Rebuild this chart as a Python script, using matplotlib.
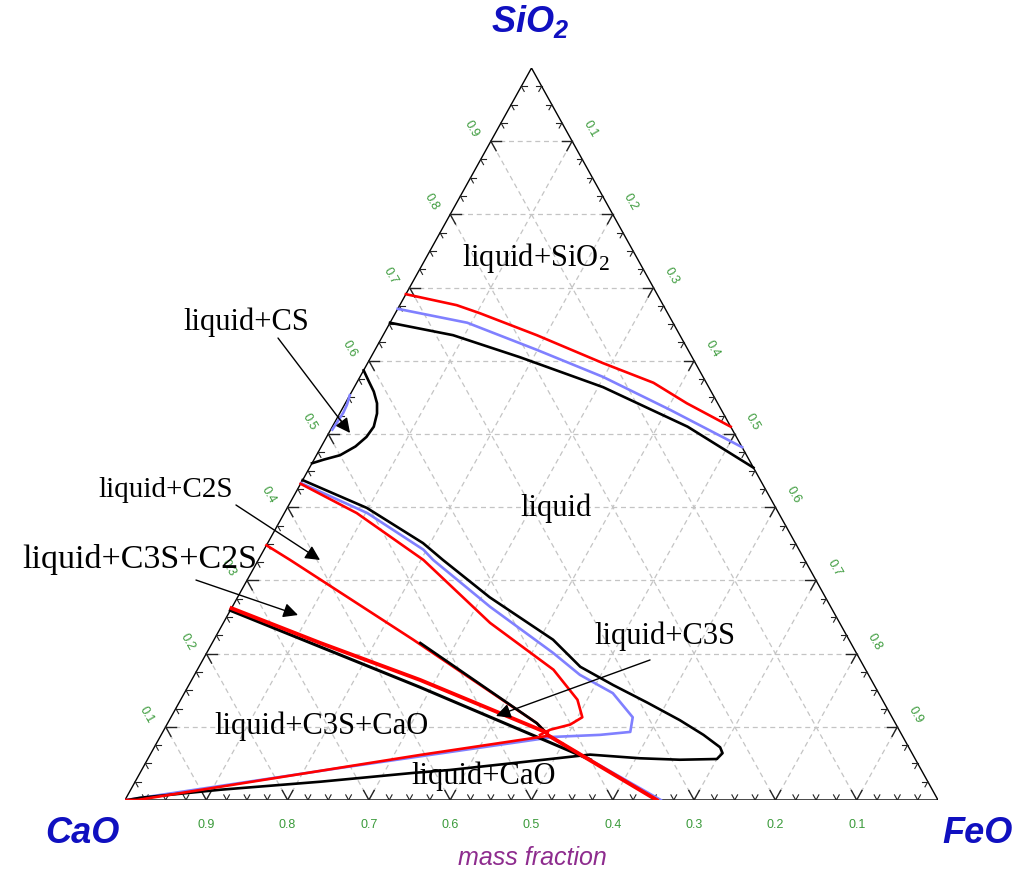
import numpy as np
import matplotlib.pyplot as plt

# compositions: SiO2 (s) and FeO (f) mass fractions, CaO = 1 - s - f
liq_sio2_red_s = [0.691, 0.676, 0.665, 0.635, 0.597, 0.570, 0.542, 0.510]
liq_sio2_red_f = [0.000, 0.070, 0.104, 0.189, 0.289, 0.365, 0.420, 0.490]
liq_sio2_blue_s = [0.671, 0.652, 0.615, 0.578, 0.533, 0.482]
liq_sio2_blue_f = [0.000, 0.095, 0.199, 0.299, 0.404, 0.518]
liq_sio2_black_s = [0.652, 0.635, 0.605, 0.564, 0.510, 0.454]
liq_sio2_black_f = [0.000, 0.086, 0.183, 0.306, 0.437, 0.546]

cs_black_s = [0.587, 0.574, 0.558, 0.542, 0.528, 0.510, 0.496, 0.483, 0.471, 0.465, 0.460]
cs_black_f = [0.000, 0.012, 0.027, 0.039, 0.046, 0.051, 0.049, 0.042, 0.029, 0.012, 0.000]
cs_blue_s = [0.553, 0.540, 0.529, 0.517, 0.506]
cs_blue_f = [0.000, 0.003, 0.004, 0.003, 0.002]

# big liquidus (black): C2S -> C3S nose -> CaO corner
liq_black_s = [0.437, 0.399, 0.351, 0.328, 0.277, 0.219, 0.182, 0.157, 0.133, 0.109,
               0.089, 0.072, 0.064, 0.056, 0.055, 0.057, 0.062, 0.051, 0.041, 0.037,
               0.025, 0.014, 0.003, 0.000]
liq_black_f = [0.000, 0.098, 0.191, 0.227, 0.310, 0.417, 0.469, 0.522, 0.576, 0.628,
               0.667, 0.696, 0.703, 0.700, 0.655, 0.605, 0.541, 0.457, 0.379, 0.336,
               0.228, 0.110, 0.017, 0.003]
liq_blue_s = [0.433, 0.392, 0.342, 0.328, 0.264, 0.201, 0.171, 0.146, 0.113, 0.093, 0.089, 0.086]
liq_blue_f = [0.000, 0.102, 0.196, 0.215, 0.317, 0.426, 0.474, 0.527, 0.568, 0.575, 0.540, 0.480]
liq_red_s = [0.432, 0.392, 0.328, 0.242, 0.178, 0.137, 0.113, 0.103, 0.096, 0.089]
liq_red_f = [0.000, 0.089, 0.203, 0.328, 0.438, 0.488, 0.506, 0.496, 0.475, 0.466]

# CaO liquidus
cao_red_s = [0.000, 0.000, 0.0615, 0.0874]
cao_red_f = [0.000, 0.015, 0.332, 0.475]
cao_blue_s = [0.000, 0.044, 0.085]
cao_blue_f = [0.002, 0.244, 0.478]

# boundary lines
bnd_a_red_s = [0.348, 0.328, 0.219, 0.105, 0.089]
bnd_a_red_f = [0.000, 0.039, 0.245, 0.454, 0.476]
bnd_a_black_s = [0.2145, 0.105, 0.089]
bnd_a_black_f = [0.256, 0.454, 0.476]
bnd_b_red_s = [0.262, 0.2145, 0.164, 0.092]
bnd_b_red_f = [0.000, 0.133, 0.281, 0.473]
bnd_b_black_s = [0.259, 0.154, 0.086, 0.055]
bnd_b_black_f = [0.000, 0.286, 0.464, 0.545]
bnd_c_red_s = [0.089, 0.000]
bnd_c_red_f = [0.475, 0.654]
bnd_c_blue_s = [0.086, 0.000]
bnd_c_blue_f = [0.480, 0.659]

tick_values = [0.1, 0.2, 0.3, 0.4, 0.5, 0.6, 0.7, 0.8, 0.9]


def tern(s, f):
    s = np.asarray(s, dtype=float)
    f = np.asarray(f, dtype=float)
    return f + 0.5 * s, s


fig = plt.figure(figsize=(10.19, 8.71), dpi=100)
ax = fig.add_axes([125 / 1019, 71 / 871, 813 / 1019, 732 / 871])
ax.set_xlim(0, 1)
ax.set_ylim(0, 1)
ax.axis('off')

# grid
grid_kw = dict(color='#c4c4c4', lw=0.9, ls=(0, (4, 3)), zorder=1)
for v in tick_values:
    ax.plot(*tern([v, v], [0, 1 - v]), **grid_kw)
    ax.plot(*tern([0, 1 - v], [v, v]), **grid_kw)
    ax.plot(*tern([0, 1 - v], [1 - v, 0]), **grid_kw)

# frame
ax.plot(*tern([0, 0, 1, 0], [0, 1, 0, 0]), color='black', lw=1.0, zorder=3)

# tick marks
for i in range(1, 40):
    v = i / 40
    L = 0.013 if i % 4 == 0 else 0.007
    lw = 1.0 if i % 4 == 0 else 0.8
    for (s0, f0), arms in [((v, 0), [(v, L), (v - L, L)]),
                           ((0, v), [(L, v), (L, v - L)]),
                           ((v, 1 - v), [(v, 1 - v - L), (v - L, 1 - v)])]:
        for s1, f1 in arms:
            ax.plot(*tern([s0, s1], [f0, f1]), color='#222222', lw=lw, zorder=3)

# tick labels
tick_kw = dict(color='#3a9a3a', fontsize=9, family='Liberation Sans', ha='center', va='center')
for v in tick_values:
    ax.text(v, -0.034, f'{1 - v:.1f}', **tick_kw)
    ax.text(0.5 * v - 0.0234, v + 0.0164, f'{v:.1f}', rotation=-60, **tick_kw)
    ax.text(1 - 0.5 * v + 0.0221, v + 0.0164, f'{1 - v:.1f}', rotation=-60, **tick_kw)

BLUE = '#8080ff'
# SiO2 liquidus
ax.plot(*tern(liq_sio2_black_s, liq_sio2_black_f), color='black', lw=1.9, zorder=4)
ax.plot(*tern(liq_sio2_blue_s, liq_sio2_blue_f), color=BLUE, lw=1.9, zorder=4)
ax.plot(*tern(liq_sio2_red_s, liq_sio2_red_f), color='red', lw=1.9, zorder=4)

# CS
ax.plot(*tern(cs_blue_s, cs_blue_f), color=BLUE, lw=1.9, zorder=4)
ax.plot(*tern(cs_black_s, cs_black_f), color='black', lw=1.9, zorder=4)

# boundaries and liquidus at low SiO2
ax.plot(*tern(cao_blue_s, cao_blue_f), color=BLUE, lw=1.9, zorder=4)
ax.plot(*tern(bnd_c_blue_s, bnd_c_blue_f), color=BLUE, lw=1.9, zorder=4)
ax.plot(*tern(liq_black_s, liq_black_f), color='black', lw=1.9, zorder=5)
ax.plot(*tern(liq_blue_s, liq_blue_f), color=BLUE, lw=1.9, zorder=5)
ax.plot(*tern(liq_red_s, liq_red_f), color='red', lw=1.9, zorder=5)
ax.plot(*tern(bnd_b_black_s, bnd_b_black_f), color='black', lw=2.2, zorder=5)
ax.plot(*tern(bnd_a_red_s, bnd_a_red_f), color='red', lw=1.9, zorder=5)
ax.plot(*tern(bnd_a_black_s, bnd_a_black_f), color='black', lw=1.9, zorder=6)
ax.plot(*tern(bnd_b_red_s, bnd_b_red_f), color='red', lw=2.8, zorder=6)
ax.plot(*tern(bnd_c_red_s, bnd_c_red_f), color='red', lw=2.8, zorder=6)
ax.plot(*tern(cao_red_s, cao_red_f), color='red', lw=1.9, zorder=6)

# region labels
lab_kw = dict(family='Liberation Serif', ha='center', va='center', zorder=8)
ax.text(0.5055, 0.7404, r'liquid+SiO$\mathregular{_2}$', fontsize=22, **lab_kw)
ax.text(0.1488, 0.6530, 'liquid+CS', fontsize=22, **lab_kw)
ax.text(0.5301, 0.3989, 'liquid', fontsize=22, **lab_kw)
ax.text(0.0504, 0.4235, 'liquid+C2S', fontsize=21, **lab_kw)
ax.text(0.0185, 0.3279, 'liquid+C3S+C2S', fontsize=24.5, **lab_kw)
ax.text(0.6642, 0.2240, 'liquid+C3S', fontsize=22, **lab_kw)
ax.text(0.2423, 0.1011, 'liquid+C3S+CaO', fontsize=22, **lab_kw)
ax.text(0.4416, 0.0328, 'liquid+CaO', fontsize=22, **lab_kw)

arrow_kw = dict(arrowstyle='-|>', color='black', lw=1.0, mutation_scale=22,
                shrinkA=0, shrinkB=0)
for tail, head in [((0.1882, 0.6311), (0.2768, 0.5014)),
                   ((0.1365, 0.4030), (0.2399, 0.3279)),
                   ((0.0873, 0.3005), (0.2128, 0.2527)),
                   ((0.6458, 0.1913), (0.4563, 0.1148))]:
    ax.annotate('', xy=head, xytext=tail, arrowprops=arrow_kw, zorder=9)

# corner labels
corner_kw = dict(fontsize=26, family='Liberation Sans', weight='bold', style='italic',
                 color='#1010c0', ha='center', va='center')
fig.text(530 / 1019, 1 - 22 / 871, r'SiO$\mathregular{_2}$', **corner_kw)
fig.text(82 / 1019, 1 - 833 / 871, 'CaO', **corner_kw)
fig.text(978 / 1019, 1 - 833 / 871, 'FeO', **corner_kw)
fig.text(532 / 1019, 1 - 858 / 871, 'mass fraction', fontsize=18, family='Liberation Sans',
         style='italic', color='#8e2c8e', ha='center', va='center')

fig.savefig('out.png', dpi=100)
